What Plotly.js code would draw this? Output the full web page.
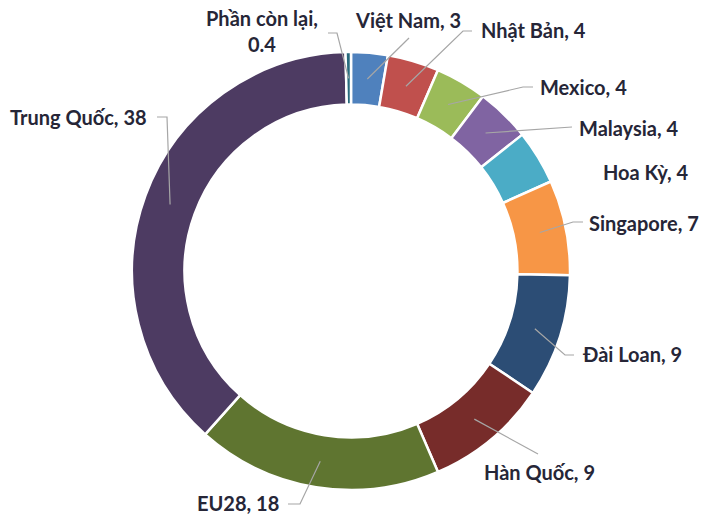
<!DOCTYPE html>
<html>
<head>
<meta charset="utf-8">
<script src="https://cdn.plot.ly/plotly-3.0.1.min.js"></script>
<style>
  html, body { margin: 0; padding: 0; background: #ffffff; }
  #chart { width: 702px; height: 516px; }
</style>
</head>
<body>
<div id="chart"></div>
<script>
// ---- Data ----
const countries = ["Việt Nam", "Nhật Bản", "Mexico", "Malaysia", "Hoa Kỳ", "Singapore",
                   "Đài Loan", "Hàn Quốc", "EU28", "Trung Quốc", "Phần còn lại"];
const shares = [2.7, 3.8, 3.8, 4.0, 4.0, 7.0, 9.1, 9.1, 18.1, 38.0, 0.4];
const shownValues = ["3", "4", "4", "4", "4", "7", "9", "9", "18", "38", "0.4"];
const sliceColors = ["#4F81BD", "#C0504D", "#9BBB59", "#8064A2", "#4BACC6", "#F79646",
                     "#2C4D75", "#772C2A", "#5F7530", "#4D3B62", "#276A7C"];

// ---- Layout of the labels (pixel positions in the 702x516 canvas) ----
const W = 702, H = 516;
const CX = 351, CY = 271, R_OUT = 219, HOLE = 0.76;
const R_MID = R_OUT * (1 + HOLE) / 2;
// text: [x, y, xanchor]; line: list of pixel points from the label towards the slice (null = no line)
const labelPlacement = [
  { t: [408, 20, "center"], line: [[409, 38]] },
  { t: [479, 30, "left"],   line: [[472, 31], [463, 31]] },
  { t: [538, 87, "left"],   line: [[533, 87], [523, 87]] },
  { t: [577, 128, "left"],  line: [[572, 127]] },
  { t: [601, 172, "left"],  line: null },
  { t: [587, 223, "left"],  line: [[583, 222], [573, 222]] },
  { t: [580, 354, "left"],  line: [[574, 355], [565, 355]] },
  { t: [482, 472, "left"],  line: [[538, 454]] },
  { t: [281, 503, "right"], line: [[288, 504], [300, 504]] },
  { t: [149, 117, "right"], line: [[157, 117], [167, 117]] },
  { t: [262, 31, "center"], line: [[328, 33], [337, 33]], twoLine: true }
];

const px = x => x / W;
const py = y => 1 - y / H;

const total = shares.reduce((a, b) => a + b, 0);
const annotations = [];
const shapes = [];
let cum = 0;
shares.forEach((v, i) => {
  const mid = (cum + v / 2) / total * 2 * Math.PI; // clockwise from 12 o'clock
  cum += v;
  const ax = CX + R_MID * Math.sin(mid);
  const ay = CY - R_MID * Math.cos(mid);
  const p = labelPlacement[i];
  const txt = p.twoLine ? countries[i] + ",<br>" + shownValues[i]
                        : countries[i] + ", " + shownValues[i];
  annotations.push({
    xref: "paper", yref: "paper",
    x: px(p.t[0]), y: py(p.t[1]),
    xanchor: p.t[2], yanchor: "middle",
    text: txt, showarrow: false, align: "center",
    font: { family: "Lato, 'Open Sans', sans-serif", size: 20, color: "#262637", weight: 700 }
  });
  if (p.line) {
    const pts = p.line.concat([[ax, ay]]);
    const path = pts.map((q, k) => (k === 0 ? "M " : "L ") + px(q[0]) + " " + py(q[1])).join(" ");
    shapes.push({
      type: "path", xref: "paper", yref: "paper", path: path,
      line: { color: "#A6A6A6", width: 1.2 }
    });
  }
});

const trace = {
  type: "pie",
  labels: countries,
  values: shares,
  sort: false,
  direction: "clockwise",
  rotation: 0,
  hole: HOLE,
  textinfo: "none",
  hoverinfo: "label+value",
  marker: { colors: sliceColors, line: { color: "#ffffff", width: 2.5 } },
  domain: { x: [0, 1], y: [py(CY + R_OUT), py(CY - R_OUT)] },
  showlegend: false
};

const layout = {
  width: W, height: H,
  margin: { l: 0, r: 0, t: 0, b: 0 },
  paper_bgcolor: "#ffffff",
  plot_bgcolor: "#ffffff",
  showlegend: false,
  annotations: annotations,
  shapes: shapes
};

Plotly.newPlot("chart", [trace], layout, { displayModeBar: false, staticPlot: true });
</script>
</body>
</html>
